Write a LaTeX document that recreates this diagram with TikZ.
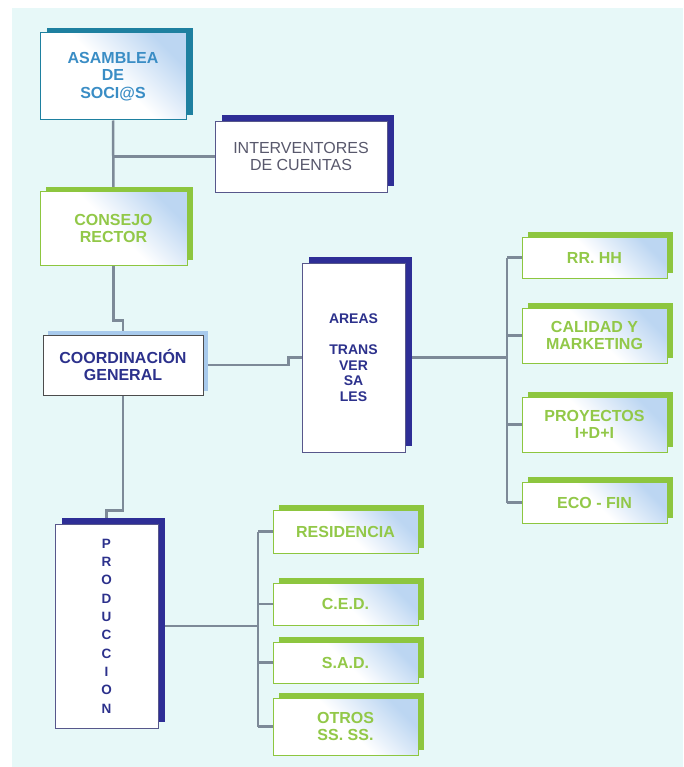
\documentclass[tikz,border=0pt]{standalone}
\usepackage{fontspec}
\setmainfont{Liberation Sans}
\usepackage{tikz}
\usetikzlibrary{shadows}

\definecolor{bgcyan}{RGB}{231,248,248}
\definecolor{tealdk}{RGB}{30,128,160}
\definecolor{tealtx}{RGB}{58,141,197}
\definecolor{leaf}{RGB}{141,198,63}
\definecolor{leaftx}{RGB}{146,200,72}
\definecolor{navy}{RGB}{46,46,150}
\definecolor{navytx}{RGB}{44,49,140}
\definecolor{skyback}{RGB}{168,202,236}
\definecolor{boxblue}{RGB}{188,214,242}
\definecolor{linkgray}{RGB}{125,138,152}
\definecolor{graytx}{RGB}{88,88,108}

\pgfdeclarelayer{bg}
\pgfdeclarelayer{links}
\pgfsetlayers{bg,links,main}

\begin{document}
\begin{tikzpicture}[x=1pt, y=-1pt,
  orgbox/.style={inner sep=0pt, align=center, line width=1pt},
  glow/.style={top color=boxblue, bottom color=white, middle color=white, shading angle=-45},
  tealbox/.style={orgbox, glow, draw=tealdk, text=tealtx,
    font=\fontsize{16}{17.5}\selectfont\bfseries,
    general shadow={fill=tealdk, shadow xshift=7pt, shadow yshift=5pt}},
  leafbox/.style={orgbox, glow, draw=leaf, text=leaftx,
    font=\fontsize{16}{17.5}\selectfont\bfseries,
    general shadow={fill=leaf, shadow xshift=6pt, shadow yshift=5pt}},
  navybox/.style={orgbox, fill=white, draw=navy!50!gray, line width=0.8pt, text=navytx,
    font=\fontsize{14}{15.5}\selectfont\bfseries,
    general shadow={fill=navy, shadow xshift=7pt, shadow yshift=6pt}},
  skybox/.style={orgbox, fill=white, draw=black!70, line width=0.8pt, text=navytx,
    font=\fontsize{16}{17.5}\selectfont\bfseries,
    general shadow={fill=skyback, shadow xshift=5pt, shadow yshift=4pt}},
  link/.style={draw=linkgray, line width=2.5pt}]
  \useasboundingbox (0,0) rectangle (683,767);
  \begin{pgfonlayer}{bg}
    \fill[white] (0,0) rectangle (683,767);
    \fill[bgcyan] (12,8) rectangle (683,767);
  \end{pgfonlayer}

  % top of the chart
  \node[tealbox, minimum width=146, minimum height=87] (asamblea) at (113,76.5) {ASAMBLEA\\DE\\SOCI@S};
  \node[navybox, text=graytx, font=\fontsize{16}{16.5}\selectfont, minimum width=172, minimum height=71] (interv) at (301,156.5) {INTERVENTORES\\DE CUENTAS};
  \node[leafbox, minimum width=147, minimum height=73] (consejo) at (113.5,228.5) {CONSEJO\\RECTOR};
  \node[skybox, minimum width=160, minimum height=60] (coord) at (123,365) {COORDINACIÓN\\GENERAL};
  \node[navybox, minimum width=103, minimum height=189] (areas) at (353.5,357.5) {AREAS\\[15.5pt]TRANS\\VER\\SA\\LES};

  % transversal areas
  \node[leafbox, minimum width=145, minimum height=41] (rrhh) at (594.5,257.5) {RR. HH};
  \node[leafbox, minimum width=145, minimum height=55] (calidad) at (594.5,335.5) {CALIDAD Y\\MARKETING};
  \node[leafbox, minimum width=145, minimum height=55] (proyectos) at (594.5,424.5) {PROYECTOS\\I+D+I};
  \node[leafbox, minimum width=145, minimum height=41] (ecofin) at (594.5,502.5) {ECO - FIN};

  % production
  \node[navybox, font=\fontsize{13.5}{18.3}\selectfont\bfseries, minimum width=103, minimum height=204] (prod) at (106.5,626) {P\\R\\O\\D\\U\\C\\C\\I\\O\\N};
  \node[leafbox, minimum width=145, minimum height=43] (resid) at (345.5,531.5) {RESIDENCIA};
  \node[leafbox, minimum width=145, minimum height=42] (ced) at (345.5,604) {C.E.D.};
  \node[leafbox, minimum width=145, minimum height=41] (sad) at (345.5,662.5) {S.A.D.};
  \node[leafbox, minimum width=145, minimum height=57] (otros) at (345.5,726.5) {OTROS\\SS. SS.};

  \coordinate (rbus) at (507,357.5);
  \coordinate (pbus) at (258,626);

  \begin{pgfonlayer}{links}
    \draw[link] (asamblea.south) -- (consejo.north);
    \draw[link] (interv.west) -- (interv.west -| asamblea.south);
    \draw[link] (consejo.south) -- ++(0,55) -| (coord.north);
    \draw[link] (coord.east) -- ++(85,0) |- (areas.west);
    \draw[link] (coord.south) -- ++(0,115) -| (prod.north);
    \draw[link] (areas.east) -- (rbus);
    \draw[link] (rbus |- rrhh.west) -- (rbus |- ecofin.west);
    \foreach \b in {rrhh,calidad,proyectos,ecofin}
      \draw[link] (rbus |- \b.west) -- (\b.west);
    \draw[link] (prod.east) -- (pbus);
    \draw[link] (pbus |- resid.west) -- (pbus |- otros.west);
    \foreach \b in {resid,ced,sad,otros}
      \draw[link] (pbus |- \b.west) -- (\b.west);
  \end{pgfonlayer}
\end{tikzpicture}
\end{document}
